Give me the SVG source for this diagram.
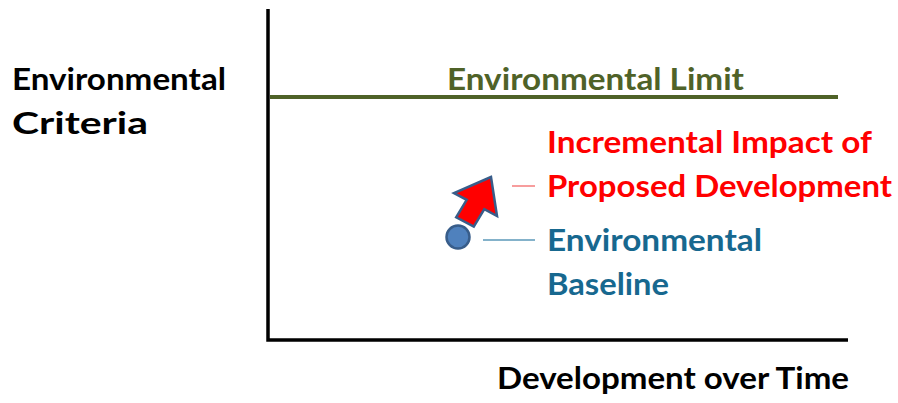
<svg xmlns="http://www.w3.org/2000/svg" width="898" height="403" viewBox="0 0 898 403">
<style>
text{font-family:Lato,"Open Sans","Liberation Sans",sans-serif;font-weight:bold;font-size:29.5px}
.k{fill:#000}
.g{fill:#4f6228}
.r{fill:#ff0000}
.b{fill:#17688f}
</style>
<rect width="898" height="403" fill="#fff"/>
<g id="axes">
<polyline points="268,9 268,340 848,340" fill="none" stroke="#000" stroke-width="3.5"/>
</g>
<g id="limit">
<line x1="270" y1="97" x2="838" y2="97" stroke="#4f6228" stroke-width="4"/>
<text class="g" x="447" y="90" textLength="297" lengthAdjust="spacingAndGlyphs">Environmental Limit</text>
</g>
<g id="y-label">
<text class="k" x="12" y="90" textLength="214" lengthAdjust="spacingAndGlyphs">Environmental</text>
<text class="k" x="12" y="134" textLength="136" lengthAdjust="spacingAndGlyphs">Criteria</text>
</g>
<g id="x-label">
<text class="k" x="497" y="389" textLength="352" lengthAdjust="spacingAndGlyphs">Development over Time</text>
</g>
<g id="baseline">
<circle cx="458" cy="237" r="11.5" fill="#4f81bd" stroke="#385d8a" stroke-width="2.5"/>
</g>
<g id="impact">
<polygon points="491,177 454,193 466.7,199.8 456.2,217.3 473.8,226.7 484.3,209.2 497,216" fill="#ff0000" stroke="#385d8a" stroke-width="2.5" stroke-linejoin="miter"/>
</g>
<g id="connectors">
<line x1="512" y1="186" x2="535" y2="186" stroke="#f47c7c" stroke-width="1.5"/>
<line x1="483" y1="240" x2="535" y2="240" stroke="#5b98b8" stroke-width="1.5"/>
</g>
<g id="impact-label">
<text class="r" x="547" y="153" textLength="325" lengthAdjust="spacingAndGlyphs">Incremental Impact of</text>
<text class="r" x="547" y="197" textLength="345" lengthAdjust="spacingAndGlyphs">Proposed Development</text>
</g>
<g id="baseline-label">
<text class="b" x="547" y="251" textLength="215" lengthAdjust="spacingAndGlyphs">Environmental</text>
<text class="b" x="547" y="295" textLength="122" lengthAdjust="spacingAndGlyphs">Baseline</text>
</g>
</svg>
